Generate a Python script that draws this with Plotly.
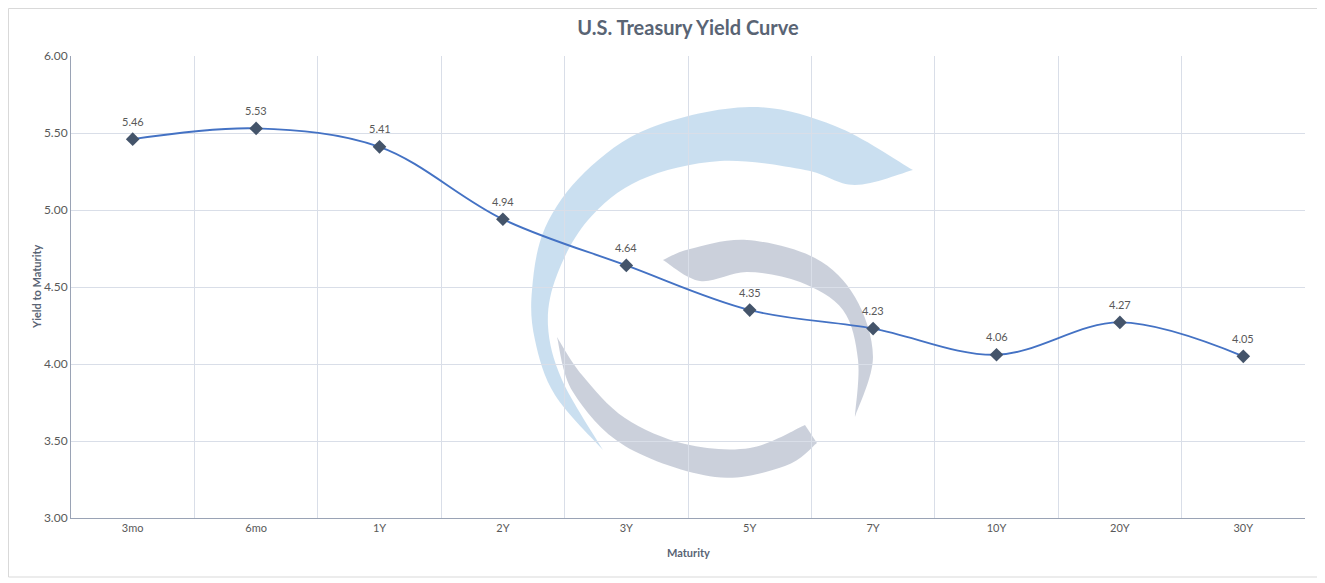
import plotly.graph_objects as go

# Yield curve data
maturities = ["3mo", "6mo", "1Y", "2Y", "3Y", "5Y", "7Y", "10Y", "20Y", "30Y"]
yields = [5.46, 5.53, 5.41, 4.94, 4.64, 4.35, 4.23, 4.06, 4.27, 4.05]

# page body has an 8px margin, so the figure is laid out 8px in from the page
OFF = 8
W, H = 1325 - OFF, 583 - OFF
L, R, T, B = 71 - OFF, 20, 56 - OFF, 65
PW, PH = W - L - R, H - T - B

TEXT = "#595959"
TITLE = "#596474"
GRID = "#D9DEE8"


def to_paper(px, py):
    # px, py are page pixels
    return (px - OFF - L) / PW, (H - B - (py - OFF)) / PH


def smooth(pts):
    """Catmull-Rom -> cubic bezier segments (watermark outline only)."""
    p = [pts[0]] + pts + [pts[-1]]
    out = []
    for i in range(1, len(p) - 2):
        p0, p1, p2, p3 = p[i - 1], p[i], p[i + 1], p[i + 2]
        c1 = (p1[0] + (p2[0] - p0[0]) / 6, p1[1] + (p2[1] - p0[1]) / 6)
        c2 = (p2[0] - (p3[0] - p1[0]) / 6, p2[1] - (p3[1] - p1[1]) / 6)
        out.append((c1, c2, p2))
    return out


def crescent(outer, inner):
    """Closed path from an outer edge and an inner edge (pixel coords)."""
    def fmt(pt):
        x, y = to_paper(*pt)
        return f"{x:.4f},{y:.4f}"
    d = "M " + fmt(outer[0])
    for c1, c2, p in smooth(outer):
        d += f" C {fmt(c1)} {fmt(c2)} {fmt(p)}"
    d += " L " + fmt(inner[0])
    for c1, c2, p in smooth(inner):
        d += f" C {fmt(c1)} {fmt(c2)} {fmt(p)}"
    return d + " Z"


# watermark logo outlines (page pixel positions)
blue_outer = [(603, 450), (555, 395), (535, 340), (532, 290), (545, 228), (585, 172),
              (650, 128), (750, 107), (835, 126), (913, 170)]
blue_inner = [(913, 170), (855, 185), (805, 170), (720, 161), (640, 180), (588, 220),
              (557, 275), (548, 325), (562, 380), (603, 450)]
gray_top_outer = [(663, 260), (690, 249), (747, 240), (815, 258), (855, 297), (873, 357),
                  (855, 417)]
gray_top_inner = [(855, 417), (858, 360), (843, 310), (800, 282), (747, 272), (700, 281),
                  (663, 260)]
gray_bot_outer = [(557, 337), (573, 392), (625, 446), (715, 477), (785, 466), (817, 443)]
gray_bot_inner = [(805, 425), (750, 448), (685, 444), (625, 418), (582, 375), (557, 337)]

shapes = [
    dict(type="path", xref="paper", yref="paper", layer="below", line_width=0,
         fillcolor="rgba(150,192,226,0.5)", path=crescent(blue_outer, blue_inner)),
    dict(type="path", xref="paper", yref="paper", layer="below", line_width=0,
         fillcolor="rgba(140,150,175,0.45)", path=crescent(gray_top_outer, gray_top_inner)),
    dict(type="path", xref="paper", yref="paper", layer="below", line_width=0,
         fillcolor="rgba(140,150,175,0.45)", path=crescent(gray_bot_outer, gray_bot_inner)),
]

# chart border
bx0, by0 = to_paper(OFF + 0.5, 577)
bx1, by1 = to_paper(1319, OFF + 0.5)
shapes.append(dict(type="rect", xref="paper", yref="paper", x0=bx0, y0=by0, x1=bx1, y1=by1,
                   line=dict(color="#D9D9D9", width=1), layer="below"))

fig = go.Figure()
fig.add_trace(go.Scatter(
    x=maturities,
    y=yields,
    mode="lines+markers",
    line=dict(color="#4472C4", width=1.9, shape="spline", smoothing=1),
    marker=dict(symbol="diamond", size=10.5, color="#44546A"),
    cliponaxis=False,
    hovertemplate="%{x}: %{y:.2f}<extra></extra>",
))

# data labels above each point
annotations = [
    dict(x=m, y=v, text=f"{v:.2f}", showarrow=False, yshift=18,
         font=dict(size=11, color=TEXT, family="Lato"))
    for m, v in zip(maturities, yields)
]

# axis titles placed like the original
ax_x, ax_y = to_paper(688, 552)
annotations.append(dict(text="<b>Maturity</b>", x=0.5, y=ax_y, xref="paper",
                        yref="paper", showarrow=False, yanchor="middle",
                        font=dict(size=11, color=TITLE)))
ay_x, ay_y = to_paper(36, 290)
annotations.append(dict(text="<b>Yield to Maturity</b>", x=ay_x, y=0.5, xref="paper",
                        yref="paper", showarrow=False, textangle=-90, xanchor="center",
                        font=dict(size=11, color=TITLE)))

fig.update_layout(
    width=W,
    height=H,
    margin=dict(l=L, r=R, t=T, b=B, autoexpand=False),
    paper_bgcolor="white",
    plot_bgcolor="white",
    showlegend=False,
    font=dict(family="Lato", color=TEXT, size=11),
    title=dict(text="<b>U.S. Treasury Yield Curve</b>", x=0.5, xref="paper", xanchor="center",
               y=1 - (28 - OFF) / H, yanchor="middle", font=dict(size=20, color=TITLE)),
    shapes=shapes,
    annotations=annotations,
)

fig.update_xaxes(
    type="category",
    range=[-0.5, len(maturities) - 0.5],
    tickson="boundaries",
    showgrid=True,
    gridcolor=GRID,
    showline=True,
    linecolor="#9AA3B5",
    ticks="",
    automargin=False,
    tickfont=dict(size=11, color=TEXT),
)
fig.update_yaxes(
    range=[3, 6],
    dtick=0.5,
    tickformat=".2f",
    showgrid=True,
    gridcolor=GRID,
    zeroline=False,
    showline=True,
    linecolor="#9AA3B5",
    ticks="",
    automargin=False,
    tickfont=dict(size=12, color=TEXT),
)

fig.write_html("out.html")
